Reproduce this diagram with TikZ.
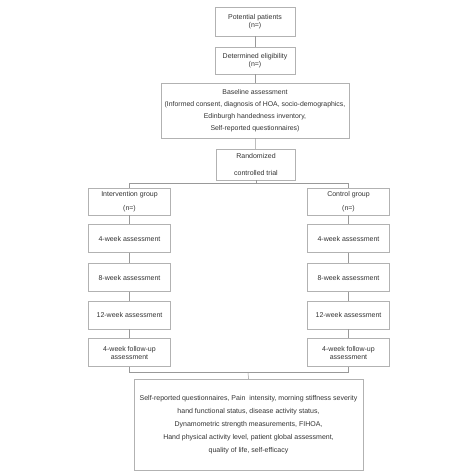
\documentclass[tikz,border=0pt]{standalone}
\usepackage{fontspec}
\setmainfont{Liberation Sans}
\usepackage{xcolor}
\usepackage{tikz}
\usetikzlibrary{positioning,calc}

\begin{document}
\begin{tikzpicture}[
                x=1pt, y=-1pt,
                font=\fontsize{7}{8}\selectfont,
                box/.style={draw=black!30, fill=white, text=black!80, align=center, inner sep=1pt},
                stage/.style={box, minimum width=82pt, minimum height=28pt},
                wide/.style={box, font=\fontsize{7}{13}\selectfont},
                link/.style={draw=black!40, line width=0.5pt}
            ]
                \useasboundingbox (0,0) rectangle (474,474);

                \node[box, minimum width=80pt, minimum height=29pt] (pot) at (255,21.5) {Potential patients\\(n=)};
                \node[box, minimum width=80pt, minimum height=27pt] (elig) at (255,60.5) {Determined eligibility\\(n=)};
                \node[box, font=\fontsize{6.9}{12}\selectfont, minimum width=188pt, minimum height=55pt] (base) at (255,110.5)
                    {Baseline assessment\\(Informed consent, diagnosis of HOA, socio-demographics,\\Edinburgh handedness inventory,\\Self-reported questionnaires)};
                \node[box, font=\fontsize{7}{16.5}\selectfont, minimum width=79pt, minimum height=31pt] (rand) at (256,164.5) {Randomized\\controlled trial};

                \node[stage, font=\fontsize{7}{14}\selectfont, minimum height=27pt] (intv) at (129.5,201.5) {Intervention group\\(n=)};
                \node[stage, font=\fontsize{7}{14}\selectfont, minimum height=27pt] (ctrl) at (348.5,201.5) {Control group\\(n=)};

                \node[stage] (intv4) at (129.5,238.5) {4-week assessment};
                \node[stage] (intv8) at (129.5,277.5) {8-week assessment};
                \node[stage] (intv12) at (129.5,315) {12-week assessment};
                \node[stage] (intvfu) at (129.5,352.5) {4-week follow-up\\assessment};

                \node[stage] (ctrl4) at (348.5,238.5) {4-week assessment};
                \node[stage] (ctrl8) at (348.5,277.5) {8-week assessment};
                \node[stage] (ctrl12) at (348.5,315) {12-week assessment};
                \node[stage] (ctrlfu) at (348.5,352.5) {4-week follow-up\\assessment};

                \node[wide, minimum width=229pt, minimum height=91pt] (outc) at (248.5,424.5)
                    {Self-reported questionnaires, Pain\ \ intensity, morning stiffness severity\\hand functional status, disease activity status,\\Dynamometric strength measurements, FIHOA,\\Hand physical activity level, patient global assessment,\\quality of life, self-efficacy};

                \coordinate (split) at (256,183);
                \coordinate (join) at (248,372.5);

                \draw[link] (pot) -- (elig);
                \draw[link] (elig) -- (base);
                \draw[link] (base) -- (rand);
                \draw[link] (rand) -- (split);
                \draw[link] (split) -| (intv.north);
                \draw[link] (split) -| (ctrl.north);
                \draw[link] (intv) -- (intv4);
                \draw[link] (intv4) -- (intv8);
                \draw[link] (intv8) -- (intv12);
                \draw[link] (intv12) -- (intvfu);
                \draw[link] (ctrl) -- (ctrl4);
                \draw[link] (ctrl4) -- (ctrl8);
                \draw[link] (ctrl8) -- (ctrl12);
                \draw[link] (ctrl12) -- (ctrlfu);
                \draw[link] (intvfu.south) |- (join) -| (ctrlfu.south);
                \draw[link] (join) -- (outc.north);
            \end{tikzpicture}
\end{document}
